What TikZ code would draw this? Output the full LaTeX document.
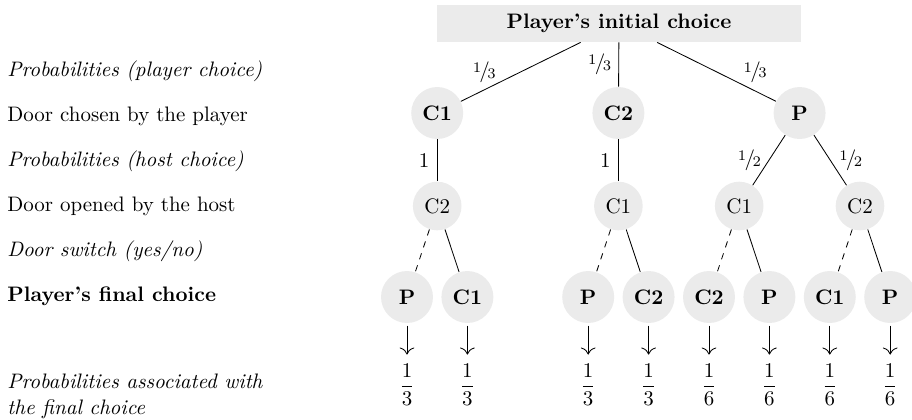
\documentclass[tikz,border=0pt]{standalone}
\usepackage{amsmath}
\usetikzlibrary{arrows.meta}
\newcommand{\nfr}[2]{\raisebox{.55ex}{\scriptsize #1}\kern-.08em/\kern-.12em\raisebox{-.1ex}{\scriptsize #2}}
\begin{document}
\begin{tikzpicture}[x=0.4771pt, y=-0.4771pt,
  rootbox/.style={fill=black!8, minimum width=173.7pt, minimum height=17.65pt, inner sep=0pt, font=\bfseries},
  bcirc/.style={circle, fill=black!8, minimum size=24.8pt, inner sep=0pt, font=\bfseries},
  ncirc/.style={circle, fill=black!8, minimum size=23.2pt, inner sep=0pt},
  elab/.style={inner sep=0pt},
  side/.style={anchor=base west, inner sep=0pt},
  sidetwo/.style={anchor=north west, inner sep=0pt, align=left, font=\itshape},
  fr/.style={inner sep=0pt},
  conn/.style={line width=0.4pt},
  sw/.style={conn, dashed},
  down/.style={conn, -{Computer Modern Rightarrow[scale=1.35]}, shorten <=1pt, shorten >=4.1pt}
]
\useasboundingbox (0,0) rectangle (912,419);

% side texts
\node[side] (t1) at (7,76) {\itshape Probabilities (player choice)};
\node[side] (t2) at (7,121.5) {Door chosen by the player};
\node[side] (t3) at (7,166.5) {\itshape Probabilities (host choice)};
\node[side] (t4) at (7,211) {Door opened by the host};
\node[side] (t5) at (7,256.5) {\itshape Door switch (yes/no)};
\node[side] (t6) at (7,301.5) {\bfseries Player's final choice};
\node[sidetwo] (t7) at (7,374) {Probabilities associated with\\the final choice};

% tree nodes
\node[rootbox] (root) at (619,23.5) {Player's initial choice};
\node[bcirc] (a1) at (437.2,113) {C1};
\node[bcirc] (a2) at (618.4,113) {C2};
\node[bcirc] (a3) at (799.6,113) {P};

\node[ncirc] (b1) at (437.2,206) {C2};
\node[ncirc] (b2) at (618.4,206) {C1};
\node[ncirc] (b3) at (739.2,206) {C1};
\node[ncirc] (b4) at (860,206) {C2};

\node[bcirc] (l1) at (407,297) {P};
\node[bcirc] (l2) at (467.4,297) {C1};
\node[bcirc] (l3) at (588.2,297) {P};
\node[bcirc] (l4) at (648.6,297) {C2};
\node[bcirc] (l5) at (709,297) {C2};
\node[bcirc] (l6) at (769.4,297) {P};
\node[bcirc] (l7) at (829.8,297) {C1};
\node[bcirc] (l8) at (890.2,297) {P};

\node[fr] (f1) at (407,384.6) {$\displaystyle\frac{1}{3}$};
\node[fr] (f2) at (467.4,384.6) {$\displaystyle\frac{1}{3}$};
\node[fr] (f3) at (588.2,384.6) {$\displaystyle\frac{1}{3}$};
\node[fr] (f4) at (648.6,384.6) {$\displaystyle\frac{1}{3}$};
\node[fr] (f5) at (709,384.6) {$\displaystyle\frac{1}{6}$};
\node[fr] (f6) at (769.4,384.6) {$\displaystyle\frac{1}{6}$};
\node[fr] (f7) at (829.8,384.6) {$\displaystyle\frac{1}{6}$};
\node[fr] (f8) at (890.2,384.6) {$\displaystyle\frac{1}{6}$};

% edges
\draw[conn] (root) -- node[elab, xshift=-17.4pt] {\nfr13} (a1);
\draw[conn] (root) -- node[elab, xshift=-9.1pt] {\nfr13} (a2);
\draw[conn] (root) -- node[elab, xshift=18.4pt] {\nfr13} (a3);

\draw[conn] (a1) -- node[elab, xshift=-6.2pt] {1} (b1);
\draw[conn] (a2) -- node[elab, xshift=-6.2pt] {1} (b2);
\draw[conn] (a3) -- node[elab, xshift=-9.3pt] {\nfr12} (b3);
\draw[conn] (a3) -- node[elab, xshift=9.8pt] {\nfr12} (b4);

\draw[sw] (b1) -- (l1);
\draw[conn] (b1) -- (l2);
\draw[sw] (b2) -- (l3);
\draw[conn] (b2) -- (l4);
\draw[sw] (b3) -- (l5);
\draw[conn] (b3) -- (l6);
\draw[sw] (b4) -- (l7);
\draw[conn] (b4) -- (l8);

\foreach \i in {1,...,8} {\draw[down] (l\i) -- (f\i);}
\end{tikzpicture}
\end{document}
